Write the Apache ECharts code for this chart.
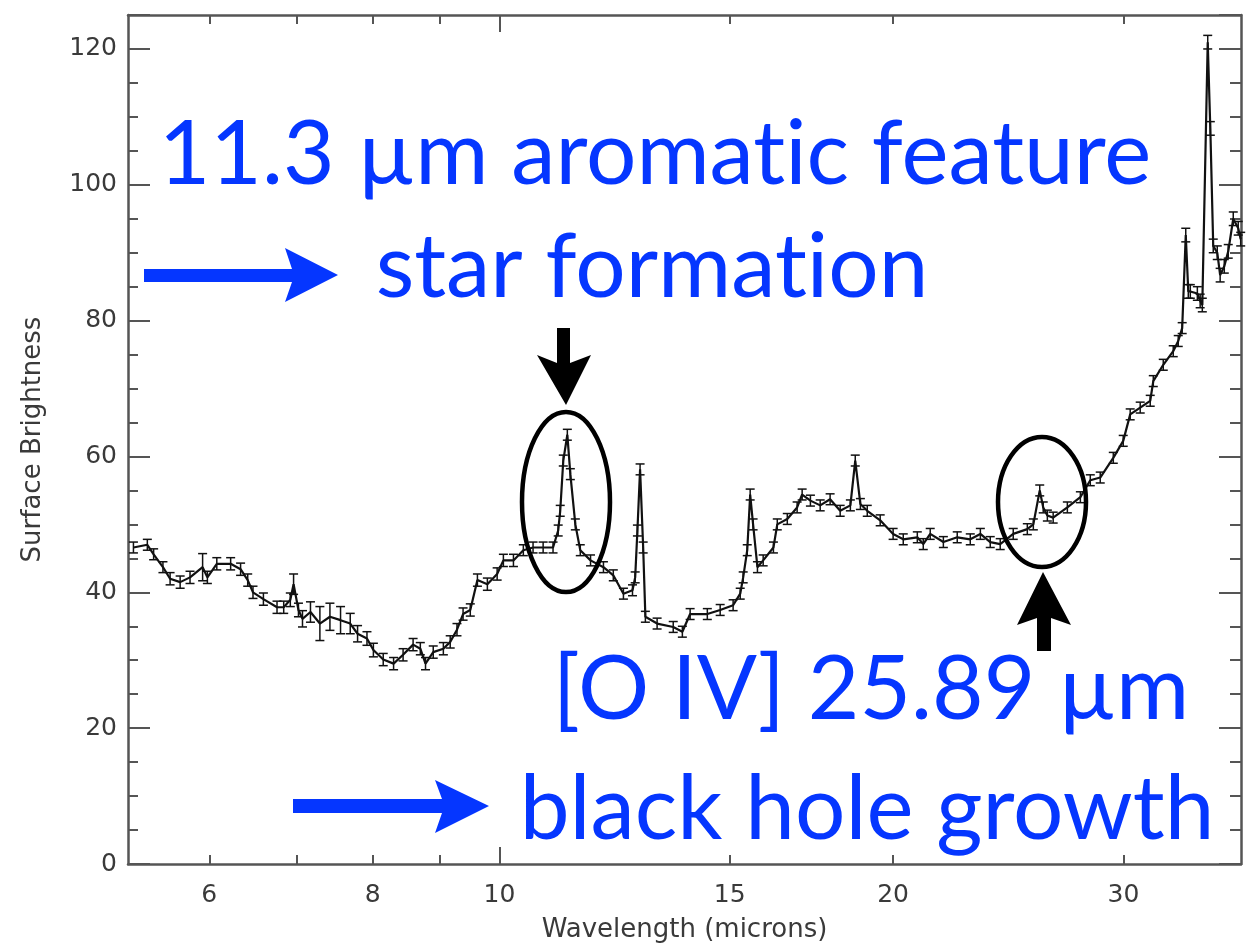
<!DOCTYPE html>
<html>
<head>
<meta charset="utf-8">
<title>Mid-infrared spectrum</title>
<script src="https://cdn.jsdelivr.net/npm/echarts@6/dist/echarts.min.js"></script>
<style>
  html, body { margin: 0; padding: 0; background: #ffffff; }
  #chart { width: 1250px; height: 948px; }
</style>
</head>
<body>
<div id="chart"></div>
<script>
// Spectrum: wavelength (microns), surface brightness and 1-sigma uncertainty
const wavelength = [
  5.25, 5.38, 5.44, 5.53, 5.60, 5.70, 5.80, 5.93, 5.98, 6.08,
  6.23, 6.34, 6.42, 6.48, 6.60, 6.76, 6.84, 6.92, 6.96, 7.02,
  7.07, 7.17, 7.29, 7.42, 7.56, 7.69, 7.79, 7.92, 8.01, 8.15,
  8.30, 8.44, 8.59, 8.70, 8.78, 8.90, 9.06, 9.17, 9.28, 9.38,
  9.50, 9.62, 9.79, 9.96, 10.07, 10.25, 10.43, 10.61, 10.80, 10.99,
  11.09, 11.13, 11.19, 11.27, 11.33, 11.43, 11.53, 11.74, 12.01, 12.22,
  12.44, 12.64, 12.70, 12.75, 12.81, 12.88, 12.93, 13.20, 13.58, 13.80,
  13.99, 14.42, 14.75, 15.09, 15.28, 15.36, 15.47, 15.55, 15.63, 15.75,
  15.91, 16.20, 16.31, 16.60, 16.89, 17.04, 17.29, 17.59, 17.90, 18.22,
  18.55, 18.71, 18.88, 19.11, 19.55, 20.00, 20.36, 20.87, 21.09, 21.35,
  21.85, 22.39, 22.91, 23.32, 23.73, 24.15, 24.71, 25.33, 25.60, 25.89,
  26.05, 26.24, 26.51, 27.18, 27.81, 28.30, 28.80, 29.47, 29.99, 30.36,
  30.90, 31.45, 31.62, 32.18, 32.75, 33.04, 33.27, 33.48, 33.63, 33.75,
  34.17, 34.34, 34.47, 34.80, 34.96, 35.14, 35.39, 35.57, 35.83, 36.08,
  36.40, 36.72, 36.88
];
const brightness = [
  46.6, 47.0, 45.6, 43.7, 42.0, 41.5, 42.2, 43.7, 42.2, 44.2,
  44.2, 43.4, 41.8, 40.0, 39.0, 37.8, 37.8, 38.9, 41.2, 37.4,
  36.1, 37.1, 35.4, 36.4, 35.9, 35.4, 33.9, 33.2, 31.5, 30.1,
  29.5, 30.8, 32.3, 31.7, 29.5, 31.2, 31.7, 32.7, 34.5, 36.8,
  37.4, 41.8, 41.2, 42.7, 44.7, 44.7, 46.2, 46.6, 46.6, 46.6,
  49.1, 52.0, 59.4, 63.2, 57.4, 50.0, 46.2, 44.7, 43.7, 42.5,
  39.8, 40.3, 42.2, 49.1, 58.1, 46.6, 36.4, 35.4, 34.9, 34.2,
  36.8, 36.8, 37.4, 38.1, 39.8, 42.2, 46.2, 54.4, 50.0, 43.7,
  44.7, 46.6, 50.0, 50.8, 52.5, 54.4, 53.5, 52.8, 53.7, 52.0,
  52.8, 59.4, 53.0, 52.0, 50.6, 48.6, 47.8, 48.1, 47.1, 48.6,
  47.4, 48.1, 47.8, 48.6, 47.4, 47.1, 48.6, 49.3, 50.0, 55.0,
  52.5, 51.3, 51.0, 52.5, 54.0, 56.5, 56.9, 59.8, 62.3, 66.2,
  67.2, 68.2, 71.1, 73.5, 75.5, 77.0, 78.9, 92.6, 84.3, 84.3,
  84.0, 82.9, 82.3, 121.0, 108.3, 91.0, 90.0, 86.7, 88.0, 90.2,
  95.0, 93.6, 92.0
];
const uncertainty = [
  0.8, 0.8, 0.8, 0.8, 0.9, 0.9, 0.9, 2.0, 0.9, 0.9,
  0.9, 0.9, 0.9, 0.9, 0.9, 0.9, 0.9, 1.0, 1.5, 1.0,
  1.2, 1.5, 2.5, 2.0, 2.0, 1.5, 1.2, 1.0, 1.0, 0.9,
  0.9, 0.9, 0.9, 0.9, 0.9, 0.9, 0.9, 0.9, 0.9, 0.9,
  0.9, 0.9, 0.9, 0.9, 0.9, 0.9, 0.8, 0.8, 0.8, 0.8,
  0.8, 0.8, 0.8, 0.8, 0.8, 0.8, 0.8, 0.8, 0.8, 0.8,
  0.8, 0.8, 0.8, 0.8, 0.8, 0.8, 0.8, 0.8, 0.8, 0.8,
  0.8, 0.8, 0.8, 0.8, 0.8, 0.8, 0.8, 0.8, 0.8, 0.8,
  0.8, 0.8, 0.8, 0.8, 0.8, 0.8, 0.8, 0.8, 0.8, 0.8,
  0.8, 0.8, 0.8, 0.8, 0.8, 0.8, 0.8, 0.8, 0.8, 0.8,
  0.8, 0.8, 0.8, 0.8, 0.8, 0.8, 0.8, 0.8, 0.8, 0.8,
  0.8, 0.8, 0.8, 0.8, 0.8, 0.8, 0.8, 0.8, 0.8, 0.8,
  0.8, 0.8, 0.8, 0.8, 0.8, 0.8, 0.8, 1.0, 1.0, 1.0,
  1.0, 1.0, 1.0, 1.0, 1.0, 1.0, 1.0, 1.0, 1.0, 1.0,
  1.0, 1.0, 1.0
];

// Axis ticks and labels
const xLabelValues = [6, 8, 10, 15, 20, 30];
const xShortTicks = [6, 7, 8, 9, 15, 20, 30];
const xLongTicks = [10];
const xRange = [5.2, 36.9];
const yRange = [0, 125];
const yStep = 20;

const BLUE = '#0536ff';
const AXIS_COLOR = '#555555';
const LABEL_COLOR = '#3a3a3a';
const AXIS_FONT = '"DejaVu Sans", sans-serif';
const NOTE_FONT = 'Lato, "Open Sans", sans-serif';
const NOTE_SIZE = 89;
// zero-width non-joiner keeps "t" and "i" as separate glyphs
const ZWNJ = '\u200c';

const series = wavelength.map((w, i) => [w, brightness[i]]);
const errorData = wavelength.map((w, i) => [w, brightness[i], uncertainty[i]]);

const chart = echarts.init(document.getElementById('chart'), null, { renderer: 'canvas' });

function logXAxis(extra) {
  return Object.assign({
    type: 'log',
    logBase: 10,
    min: xRange[0],
    max: xRange[1],
    splitLine: { show: false },
    axisLine: { show: false },
    axisLabel: { show: false },
    axisTick: { show: false }
  }, extra);
}

function note(x, y, text) {
  return {
    type: 'text', z: 11,
    style: {
      x: x, y: y, text: text,
      font: NOTE_SIZE + 'px ' + NOTE_FONT,
      fill: BLUE, textAlign: 'center', textVerticalAlign: 'middle'
    }
  };
}

const option = {
  backgroundColor: '#ffffff',
  animation: false,
  grid: { left: 128, right: 9, top: 15, bottom: 80, containLabel: false },
  xAxis: [
    logXAxis({
      position: 'bottom',
      name: 'Wavelength (microns)',
      nameLocation: 'middle',
      nameGap: 53,
      nameTextStyle: { fontFamily: AXIS_FONT, fontSize: 26, color: LABEL_COLOR },
      axisLine: { show: true, lineStyle: { color: AXIS_COLOR, width: 2.5 } },
      axisTick: { show: true, inside: true, length: 9, customValues: xShortTicks,
                  lineStyle: { color: AXIS_COLOR, width: 2 } },
      axisLabel: { show: true, customValues: xLabelValues, margin: 19,
                   fontFamily: AXIS_FONT, fontSize: 25, color: LABEL_COLOR }
    }),
    logXAxis({
      position: 'bottom',
      axisTick: { show: true, inside: true, length: 17, customValues: xLongTicks,
                  lineStyle: { color: AXIS_COLOR, width: 2 } }
    }),
    logXAxis({
      position: 'top',
      axisLine: { show: true, lineStyle: { color: AXIS_COLOR, width: 2.5 } },
      axisTick: { show: true, inside: true, length: 9, customValues: xShortTicks,
                  lineStyle: { color: AXIS_COLOR, width: 2 } }
    }),
    logXAxis({
      position: 'top',
      axisTick: { show: true, inside: true, length: 17, customValues: xLongTicks,
                  lineStyle: { color: AXIS_COLOR, width: 2 } }
    })
  ],
  yAxis: [
    {
      type: 'value',
      position: 'left',
      min: yRange[0],
      max: yRange[1],
      interval: yStep,
      name: 'Surface Brightness',
      nameLocation: 'middle',
      nameGap: 82,
      nameRotate: 90,
      nameTextStyle: { fontFamily: AXIS_FONT, fontSize: 26, color: LABEL_COLOR },
      splitLine: { show: false },
      axisLine: { show: true, lineStyle: { color: AXIS_COLOR, width: 2.5 } },
      axisTick: { show: true, inside: true, length: 22, lineStyle: { color: AXIS_COLOR, width: 2 } },
      minorTick: { show: true, splitNumber: 4, length: 10, lineStyle: { color: AXIS_COLOR, width: 2 } },
      axisLabel: { margin: 11, fontFamily: AXIS_FONT, fontSize: 25, color: LABEL_COLOR,
                   showMaxLabel: false }
    },
    {
      type: 'value',
      position: 'right',
      min: yRange[0],
      max: yRange[1],
      interval: yStep,
      splitLine: { show: false },
      axisLine: { show: true, lineStyle: { color: AXIS_COLOR, width: 2.5 } },
      axisTick: { show: true, inside: true, length: 22, lineStyle: { color: AXIS_COLOR, width: 2 } },
      minorTick: { show: true, splitNumber: 4, length: 11, lineStyle: { color: AXIS_COLOR, width: 2 } },
      axisLabel: { show: false }
    }
  ],
  series: [
    {
      name: 'Error bars',
      type: 'custom',
      xAxisIndex: 0,
      yAxisIndex: 0,
      data: errorData,
      silent: true,
      z: 2,
      renderItem: function (params, api) {
        const x = api.value(0);
        const y = api.value(1);
        const e = api.value(2);
        const top = api.coord([x, y + e]);
        const bot = api.coord([x, y - e]);
        const cap = 4.5;
        const style = { stroke: '#111111', lineWidth: 1.5 };
        return {
          type: 'group',
          children: [
            { type: 'line', shape: { x1: top[0], y1: top[1], x2: bot[0], y2: bot[1] }, style: style },
            { type: 'line', shape: { x1: top[0] - cap, y1: top[1], x2: top[0] + cap, y2: top[1] }, style: style },
            { type: 'line', shape: { x1: bot[0] - cap, y1: bot[1], x2: bot[0] + cap, y2: bot[1] }, style: style }
          ]
        };
      }
    },
    {
      name: 'Surface Brightness',
      type: 'line',
      xAxisIndex: 0,
      yAxisIndex: 0,
      data: series,
      showSymbol: false,
      symbol: 'none',
      lineStyle: { color: '#111111', width: 2.2 },
      z: 3
    }
  ],
  graphic: [
    // line-feature rings
    { type: 'ellipse', shape: { cx: 566, cy: 502, rx: 44, ry: 90 },
      style: { fill: 'none', stroke: '#000000', lineWidth: 4.5 }, z: 10 },
    { type: 'ellipse', shape: { cx: 1042, cy: 502, rx: 44, ry: 65 },
      style: { fill: 'none', stroke: '#000000', lineWidth: 4.5 }, z: 10 },
    // black pointers
    { type: 'polygon', z: 10,
      shape: { points: [[557, 328], [570, 328], [570, 363], [591, 355], [566, 405], [537, 355], [557, 363]] },
      style: { fill: '#000000' } },
    { type: 'polygon', z: 10,
      shape: { points: [[1037, 651], [1051, 651], [1051, 618], [1071, 625], [1043, 572], [1017, 625], [1037, 618]] },
      style: { fill: '#000000' } },
    // blue arrows
    { type: 'polygon', z: 10,
      shape: { points: [[144, 269], [292, 269], [285, 248], [338, 275], [285, 302], [292, 282], [144, 282]] },
      style: { fill: BLUE } },
    { type: 'polygon', z: 10,
      shape: { points: [[293, 799], [442, 799], [435, 780], [489, 806], [435, 833], [442, 813], [293, 813]] },
      style: { fill: BLUE } },
    // annotation text
    note(655, 155, '11.3 \u00b5m aromat' + ZWNJ + 'ic feature'),
    note(652, 268, 'star format' + ZWNJ + 'ion'),
    note(871, 690, '[O IV] 25.89 \u00b5m'),
    note(867, 810, 'black hole growth')
  ]
};

chart.setOption(option);
</script>
</body>
</html>
